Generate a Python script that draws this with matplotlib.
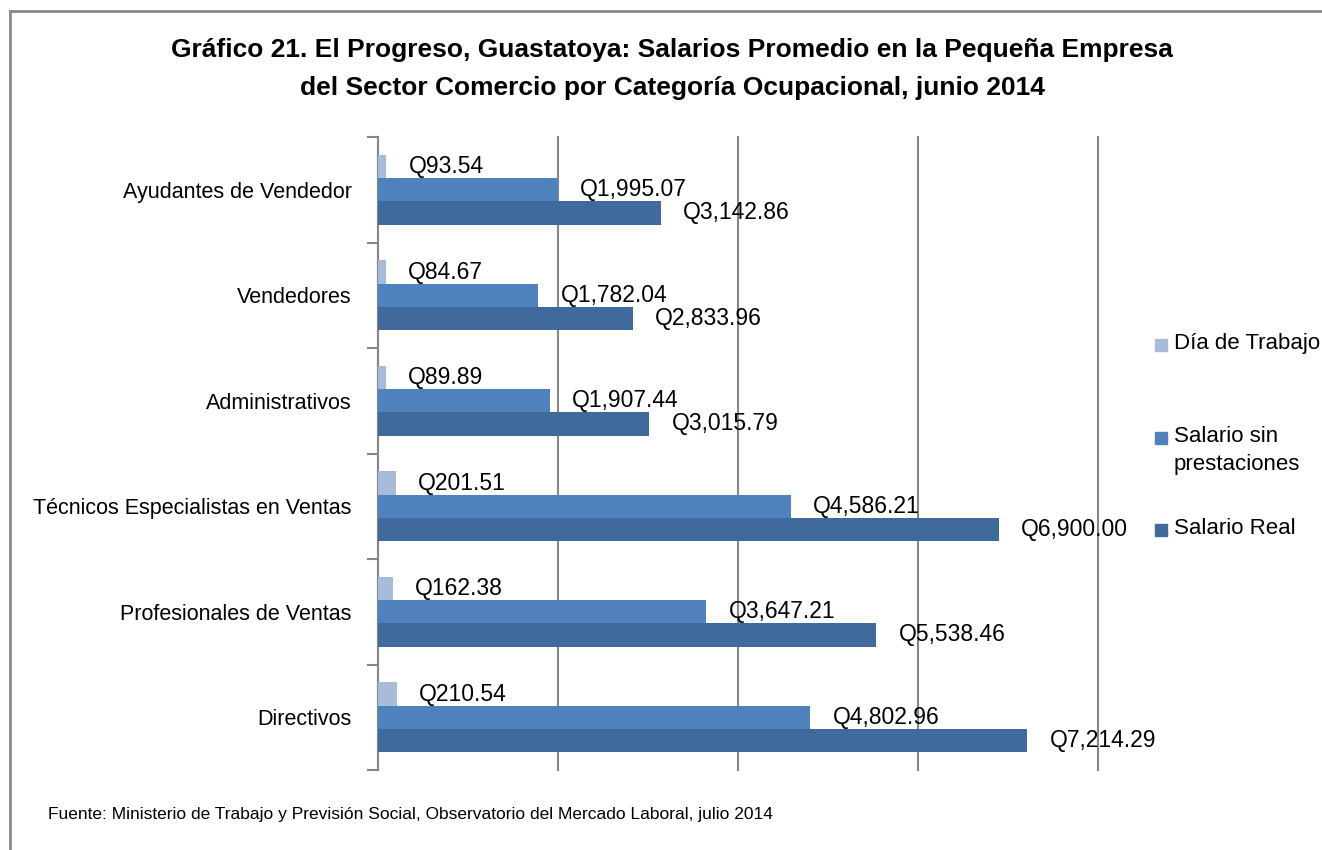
import numpy as np
import matplotlib.pyplot as plt
from matplotlib.patches import Rectangle
from matplotlib.lines import Line2D

plt.rcParams['font.family'] = ['Liberation Sans', 'DejaVu Sans']

categorias = ["Ayudantes de Vendedor", "Vendedores", "Administrativos",
              "Técnicos Especialistas en Ventas", "Profesionales de Ventas", "Directivos"]
series = ["Día de Trabajo", "Salario sin\nprestaciones", "Salario Real"]
dia_trabajo = [93.54, 84.67, 89.89, 201.51, 162.38, 210.54]
salario_sin = [1995.07, 1782.04, 1907.44, 4586.21, 3647.21, 4802.96]
salario_real = [3142.86, 2833.96, 3015.79, 6900.00, 5538.46, 7214.29]
colores = ["#A9BBDB", "#4F81BD", "#416A9C"]

fig = plt.figure(figsize=(13.22, 8.5), dpi=100)
ax = fig.add_axes([378 / 1322, 1 - 770 / 850, 720 / 1322, 633 / 850])

y = np.arange(len(categorias))
h = 0.22
valores = [dia_trabajo, salario_sin, salario_real]
for i, (vals, col) in enumerate(zip(valores, colores)):
    pos = y + (i - 1) * h
    ax.barh(pos, vals, height=h, color=col, zorder=3)
    for p, v in zip(pos, vals):
        ax.annotate(f"Q{v:,.2f}", (v, p), xytext=(16, 0), textcoords="offset points",
                    va="center", ha="left", fontsize=16.5, zorder=4)

ax.set_xlim(0, 8000)
ax.set_ylim(len(categorias) - 0.5, -0.5)
ax.set_xticks([0, 2000, 4000, 6000, 8000])
ax.set_xticklabels([])
ax.tick_params(axis="x", length=0)
ax.grid(axis="x", color="#878787", linewidth=1.5, zorder=1)
for gl in ax.get_xgridlines():
    gl.set_clip_on(False)
ax.set_yticks(y)
ax.set_yticklabels(categorias, fontsize=15.5)
ax.tick_params(axis="y", which="major", length=0, pad=19)
ax.set_yticks(np.arange(-0.5, len(categorias)), minor=True)
ax.tick_params(axis="y", which="minor", length=8, width=1.5, color="#878787")
for s in ["top", "right", "bottom"]:
    ax.spines[s].set_visible(False)
ax.spines["left"].set_color("#878787")
ax.spines["left"].set_linewidth(1.5)

# leyenda
leg_y = [345, 438, 530]
for nombre, col, ly in zip(series, colores, leg_y):
    fig.add_artist(Rectangle((1155 / 1322, 1 - (ly + 6) / 850), 12 / 1322, 12 / 850,
                             color=col, transform=fig.transFigure))
    fig.text(1174 / 1322, 1 - (ly - 12) / 850, nombre, fontsize=16, va="top",
             ha="left", linespacing=1.45)

fig.text(672 / 1322, 1 - 50 / 850,
         "Gráfico 21. El Progreso, Guastatoya: Salarios Promedio en la Pequeña Empresa",
         ha="center", va="center", fontsize=19, fontweight="bold")
fig.text(672 / 1322, 1 - 88 / 850,
         "del Sector Comercio por Categoría Ocupacional, junio 2014",
         ha="center", va="center", fontsize=19, fontweight="bold")
fig.text(48 / 1322, 1 - 815 / 850,
         "Fuente: Ministerio de Trabajo y Previsión Social, Observatorio del Mercado Laboral, julio 2014",
         ha="left", va="center", fontsize=12.5)

fig.add_artist(Line2D([10 / 1322, 10 / 1322], [0, 1 - 11 / 850], color="#898989", lw=2))
fig.add_artist(Line2D([10 / 1322, 1], [1 - 11 / 850, 1 - 11 / 850], color="#898989", lw=2))

fig.savefig("out.png", dpi=100)
